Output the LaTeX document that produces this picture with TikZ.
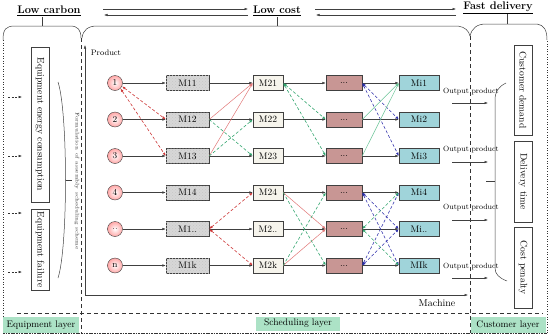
\documentclass[tikz,border=0pt]{standalone}
\usetikzlibrary{arrows.meta,patterns}
\definecolor{rdash}{RGB}{205,55,55}
\definecolor{rline}{RGB}{225,120,120}
\definecolor{gdash}{RGB}{50,165,110}
\definecolor{gline}{RGB}{105,195,150}
\definecolor{bdash}{RGB}{45,45,170}
\definecolor{cthree}{RGB}{200,150,148}
\definecolor{cfour}{RGB}{160,212,218}
\definecolor{ctwo}{RGB}{246,244,236}
\definecolor{cone}{RGB}{215,215,215}
\definecolor{layerc}{RGB}{172,226,198}
\begin{document}
\begin{tikzpicture}[x=1pt,y=-1pt,
  >={Latex[length=3.5pt,width=2.6pt]},
  line/.style={draw=black!75, line width=0.5pt},
  prod/.style={circle, draw=black!75, minimum size=15pt, inner sep=0pt, shading=radial, inner color=white, outer color=red!35, font=\fontsize{9}{9}\selectfont},
  boxbase/.style={draw=black!75, minimum height=15pt, inner sep=0pt, font=\fontsize{9.5}{10}\selectfont},
  mone/.style={boxbase, fill=cone, minimum width=43pt, postaction={pattern=crosshatch dots, pattern color=gray!45}},
  mtwo/.style={boxbase, fill=ctwo, minimum width=30pt},
  mthree/.style={boxbase, fill=cthree, minimum width=36pt},
  mfour/.style={boxbase, fill=cfour, minimum width=40pt},
  harrow/.style={->, draw=black!75, line width=0.5pt},
  reddash/.style={dashed, draw=rdash, line width=0.6pt, dash pattern=on 3pt off 2pt},
  redline/.style={draw=rline, line width=0.5pt},
  greendash/.style={dashed, draw=gdash, line width=0.6pt, dash pattern=on 3pt off 2pt},
  greenline/.style={draw=gline, line width=0.5pt},
  bluedash/.style={dashed, draw=bdash, line width=0.6pt, dash pattern=on 3pt off 2pt},
  vbox/.style={draw=black!75, rotate=-90, minimum height=18pt, inner sep=0pt, font=\fontsize{9.6}{10}\selectfont},
  layerbox/.style={fill=layerc, inner sep=0pt, font=\fontsize{9.5}{10}\selectfont},
  title/.style={font=\fontsize{11}{12}\selectfont\bfseries},
  outp/.style={font=\fontsize{7.5}{8}\selectfont, inner sep=0pt},
  sep/.style={dash pattern=on 4pt off 3pt, line width=0.6pt, draw=black!80},
  dots/.style={dotted, line width=0.6pt, draw=black!80}
]
\useasboundingbox (0,0) rectangle (550,335);

% ---- titles and top arrows
\node[title] (tc) at (49,11) {\underline{Low carbon}};
\node[title] (tl) at (277,11) {\underline{Low cost}};
\node[title] (tf) at (498,8) {\underline{Fast delivery}};
\draw[harrow] (103,9) -- (248,9);
\draw[harrow] (248,15) -- (104,15);
\draw[harrow] (315,9) -- (456,9);
\draw[harrow] (456,15) -- (316,15);

% ---- top braces
\draw[line] (3,40) .. controls (3,29) and (6,26) .. (15,26) -- (70,26) .. controls (78,26) and (81,30) .. (81,38);
\draw[line] (42,17) -- (42,26);
\draw[line] (82,38) .. controls (83,30) and (88,26) .. (97,26) -- (458,26) .. controls (465,27) and (469,31) .. (470,36);
\draw[line] (277,17) -- (277,26);
\draw[line] (470,36) .. controls (472,28) and (477,24) .. (486,24) -- (537,24) .. controls (544,25) and (547,30) .. (547,40);
\draw[line] (507,14) -- (507,24);

% ---- frames
\draw[dots] (3,40) -- (3,333) -- (547,333) -- (547,40);
\draw[sep] (81,38) -- (81,333);
\draw[sep] (470,36) -- (470,333);
\draw[sep] (17,313) -- (543,313);

% ---- layer labels
\node[layerbox, minimum width=76pt, minimum height=16pt] (le) at (41,325) {Equipment layer};
\node[layerbox, minimum width=84pt, minimum height=14pt] (ls) at (298,323.5) {Scheduling layer};
\node[layerbox, minimum width=75pt, minimum height=16pt] (lc) at (508,325) {Customer layer};
\draw[dots] (3,333) -- (547,333);

% ---- equipment layer
\node[vbox, minimum width=155pt] (ee) at (40,124.5) {Equipment energy consumption};
\node[vbox, minimum width=81pt] (ef) at (40,249.5) {Equipment failure};
\foreach \yy in {97,156,213,272}{
  \draw[->, dashed, draw=black!80, line width=0.5pt, dash pattern=on 2pt off 1.5pt] (8,\yy) -- (22,\yy);
}
\draw[line] (58,82) .. controls (68,112) and (68,248) .. (58,278);
\draw[line] (65.5,180) -- (72,180);
\node[rotate=-90, font=\fontsize{5.3}{6}\selectfont, inner sep=0pt, text=black!80] (fm) at (77,181) {Formulation of assembly scheduling scheme};

% ---- axes
\draw[<->, draw=black!75, line width=0.5pt] (85,45) -- (85,295) -- (468,295);
\node[font=\fontsize{8}{9}\selectfont, inner sep=0pt] (pl) at (106,53) {Product};
\node[font=\fontsize{10}{11}\selectfont, inner sep=0pt] (ml) at (437,303) {Machine};

% ---- rows
\foreach \i/\yy/\pl/\al/\bl/\dl in {1/83/1/M11/M21/Mi1, 2/119.5/2/M12/M22/Mi2, 3/156/3/M13/M23/Mi3, 4/192.5/4/M14/M24/Mi4, 5/229/../M1../M2../Mi.., 6/265.5/n/M1k/M2k/MIk}{
  \node[prod] (p\i) at (115,\yy) {\pl};
  \node[mone] (a\i) at (187.5,\yy) {\al};
  \node[mtwo] (b\i) at (268,\yy) {\bl};
  \node[mthree] (c\i) at (344,\yy) {...};
  \node[mfour] (d\i) at (419,\yy) {\dl};
  \draw[harrow] (p\i) -- (a\i);
  \draw[harrow] (a\i) -- (b\i);
  \draw[harrow] (b\i) -- (c\i);
  \draw[harrow] (c\i) -- (d\i);
}

% ---- cross links: products -> M1
\draw[reddash, <->] (p1.-25) -- (a2.west);
\draw[reddash, <->] (p1.-45) -- (a3.west);
% M1 -> M2
\draw[redline, ->] (a2.east) -- (b1.west);
\draw[redline, ->] (a3.east) -- (b1.west);
\draw[greendash, ->] (a2.east) -- (b3.west);
\draw[greendash, ->] (a3.east) -- (b2.west);
\draw[reddash, <->] (a5.east) -- (b4.west);
\draw[reddash, <->] (a5.east) -- (b6.west);
% M2 -> col3
\draw[greendash, <->] (b1.east) -- (c2.west);
\draw[greendash, <->] (b1.east) -- (c3.west);
\draw[redline, ->] (b4.east) -- (c5.west);
\draw[redline, ->] (b6.east) -- (c5.west);
\draw[greendash, ->] (b4.east) -- (c6.west);
\draw[greendash, ->] (b6.east) -- (c4.west);
% col3 -> col4
\draw[bluedash, <->] (c1.east) -- (d2.west);
\draw[bluedash, <->] (c1.east) -- (d3.west);
\draw[greenline, ->] (c2.east) -- (d1.west);
\draw[greenline, ->] (c3.east) -- (d1.west);
\draw[bluedash, <->] (c4.east) -- (d5.west);
\draw[bluedash, <->] (c4.east) -- (d6.west);
\draw[bluedash, <->] (c6.east) -- (d4.west);
\draw[bluedash, <->] (c6.east) -- (d5.west);
\draw[greendash, <->] (c5.east) -- (d4.west);
\draw[greendash, <->] (c5.east) -- (d6.west);

% ---- output products
\foreach \k/\ty/\ay in {1/92/103, 2/150/162, 3/208/220, 4/267/278}{
  \node[outp] (ot\k) at (471,\ty) {Output product};
  \coordinate (os\k) at (452,\ay);
  \coordinate (oe\k) at (488,\ay);
  \draw[harrow] (os\k) -- (oe\k);
}

% ---- customer layer
\draw[line] (506,83) .. controls (498,87) and (495,92) .. (495,100) -- (495,268) .. controls (495,274) and (499,278) .. (507,281);
\draw[line] (486,181) -- (495,181);
\node[vbox, minimum width=90pt] (cd) at (523,90) {Customer demand};
\node[vbox, minimum width=81pt] (dt) at (523,181.5) {Delivery time};
\node[vbox, minimum width=81pt] (cp) at (523,267.5) {Cost penalty};
\end{tikzpicture}
\end{document}
